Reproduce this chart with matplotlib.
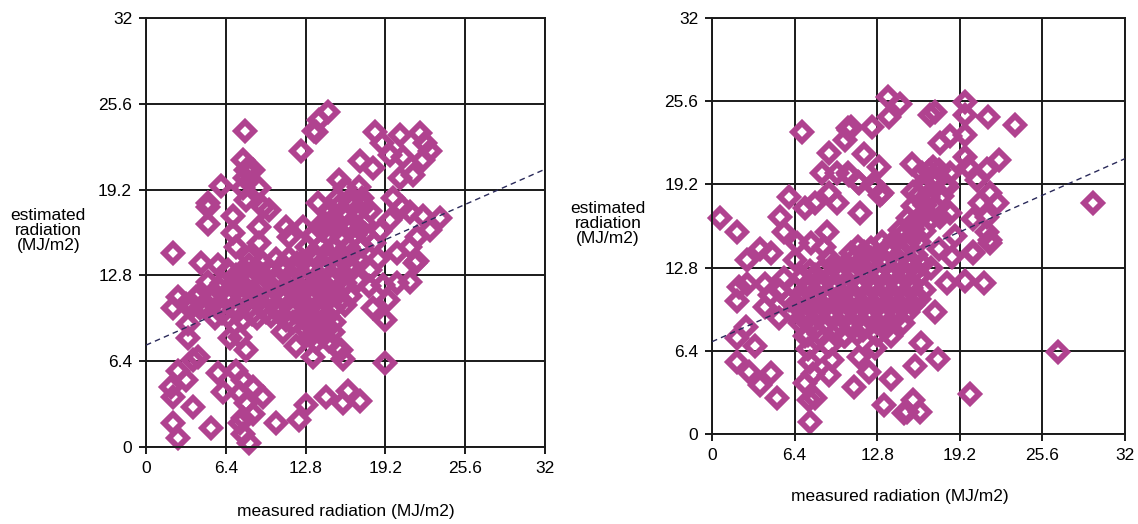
import matplotlib
matplotlib.use("Agg")
import matplotlib.pyplot as plt

# ---------------------------------------------------------------------------
# DATA
# ---------------------------------------------------------------------------
TICKS = [0, 6.4, 12.8, 19.2, 25.6, 32]
TICK_LABELS = ["0", "6.4", "12.8", "19.2", "25.6", "32"]

# trend lines: (intercept, slope)
left_trend = (7.6, 0.41)
right_trend = (7.1, 0.44)

left_sparse = [
    (7.9, 23.6), (7.8, 21.4), (8.0, 20.7), (8.6, 20.7), (7.9, 20.1), (9.1, 19.3), (7.8, 19.3),
    (6.0, 19.5), (5.0, 18.2), (5.0, 17.9), (5.0, 16.6), (2.2, 14.5),
    (12.4, 22.1), (13.5, 23.6), (13.9, 24.4), (14.6, 25.0), (13.6, 23.5), (15.5, 19.9), (13.8, 18.2),
    (14.7, 16.7), (11.2, 16.4), (12.6, 16.4), (11.5, 15.7),
    (7.0, 17.2), (7.0, 16.0), (8.0, 18.4), (9.4, 17.9), (9.9, 17.7), (9.1, 16.4), (9.1, 15.2),
    (7.2, 14.9), (4.4, 13.7), (5.8, 13.6), (8.3, 14.2),
    (2.6, 11.2), (2.2, 10.4), (3.2, 10.7), (4.3, 10.4), (4.0, 11.2), (5.2, 11.0), (3.4, 9.2),
    (3.4, 8.1), (6.7, 8.1), (7.5, 8.2), (8.0, 7.2), (11.0, 8.6), (11.8, 9.3), (12.0, 7.5),
    (13.4, 6.7), (13.4, 8.9), (15.5, 7.2),
    (3.8, 6.5), (4.2, 6.7), (2.6, 5.7), (3.2, 5.0), (2.0, 4.5), (2.2, 3.7), (3.8, 3.0), (2.2, 1.8),
    (2.6, 0.7), (5.2, 1.4), (5.8, 5.5), (6.2, 4.1), (7.2, 5.7), (7.8, 5.0), (7.5, 4.0), (8.6, 4.5),
    (9.4, 3.7), (8.0, 3.3), (8.6, 2.5), (7.5, 1.8), (7.8, 1.0), (8.3, 0.3), (7.8, 2.2), (10.4, 1.8),
    (12.3, 2.0), (12.8, 3.1), (14.4, 3.7), (15.8, 3.3), (16.2, 4.2), (17.2, 3.4),
    (19.2, 9.5), (19.2, 6.3), (15.6, 7.2), (15.8, 6.6), (18.2, 10.4), (19.4, 11.0), (21.2, 12.3),
    (20.1, 12.2), (21.6, 13.7), (19.0, 12.1),
    (18.4, 23.5), (20.4, 23.3), (22.0, 23.4), (22.4, 22.7), (22.8, 22.1), (22.2, 21.4), (18.9, 22.7),
    (19.6, 21.8), (20.6, 21.6), (21.4, 20.3), (20.4, 20.1), (17.2, 21.3), (18.2, 20.8), (19.8, 18.6),
    (20.5, 17.9), (21.2, 17.5), (22.2, 17.2), (23.6, 17.1), (22.8, 16.2), (21.7, 15.7), (21.2, 14.9),
    (20.1, 14.5), (21.7, 13.9), (19.6, 16.9),
    (18.3, 15.2), (18.6, 14.0), (18.0, 13.2), (18.8, 16.1), (17.9, 12.0),
]

left_dense = [
    (5.5, 9.6), (6.6, 9.7), (7.8, 9.5), (8.9, 9.6), (10.0, 9.8), (11.2, 9.5), (12.4, 9.7), (13.5, 9.6), (14.6, 9.8),
    (3.8, 10.5), (4.9, 10.4), (6.0, 10.6), (7.1, 10.5), (8.3, 10.4), (9.4, 10.6), (10.5, 10.5), (11.6, 10.4),
    (12.8, 10.6), (13.9, 10.5), (15.0, 10.4), (16.0, 10.6),
    (4.3, 11.4), (5.4, 11.5), (6.5, 11.3), (7.6, 11.4), (8.7, 11.5), (9.8, 11.3), (10.9, 11.4), (12.0, 11.5),
    (13.1, 11.3), (14.2, 11.4), (15.3, 11.5), (16.4, 11.3),
    (5.0, 12.3), (6.1, 12.2), (7.2, 12.4), (8.3, 12.3), (9.4, 12.2), (10.5, 12.4), (11.6, 12.3), (12.7, 12.2),
    (13.8, 12.4), (14.9, 12.3), (16.0, 12.2), (17.0, 12.4),
    (6.6, 13.2), (7.7, 13.1), (8.8, 13.3), (9.9, 13.2), (11.0, 13.1), (12.1, 13.3), (13.2, 13.2), (14.3, 13.1),
    (15.4, 13.3), (16.5, 13.2),
    (10.4, 14.0), (11.5, 14.1), (12.6, 13.9), (13.7, 14.0), (14.8, 14.1), (15.9, 13.9), (17.0, 14.0),
    (12.8, 8.7), (13.9, 8.8), (15.0, 8.6), (13.6, 7.8), (14.7, 7.9),
    (12.9, 14.9), (14.0, 15.0), (15.1, 14.8), (16.2, 14.9), (17.3, 15.0),
    (13.5, 15.8), (14.6, 15.9), (15.7, 15.7), (16.8, 15.8), (17.6, 15.9),
    (14.2, 16.7), (15.3, 16.8), (16.4, 16.6), (17.5, 16.7),
    (14.8, 17.6), (15.9, 17.5), (17.0, 17.7), (18.0, 17.6),
    (15.3, 18.5), (16.3, 18.4), (17.3, 18.6), (16.0, 19.3), (17.1, 19.4),
    # second pass through the solid core, offset by half a step
    (6.1, 10.0), (7.3, 10.1), (8.5, 9.9), (9.6, 10.1), (10.7, 10.0), (11.9, 10.1), (13.0, 9.9), (14.2, 10.1),
    (5.9, 11.8), (7.0, 11.9), (8.1, 11.8), (9.2, 11.9), (10.3, 11.8), (11.4, 11.9), (12.5, 11.8), (13.6, 11.9),
    (14.7, 11.8), (15.8, 11.9), (7.2, 12.8), (8.3, 12.7), (9.4, 12.8), (10.5, 12.7), (11.6, 12.8),
    (12.7, 12.7), (13.8, 12.8), (14.9, 12.7), (15.9, 12.8), (13.4, 14.4), (14.5, 14.5), (15.6, 14.4),
    (16.6, 14.5), (14.1, 16.2), (15.2, 16.3), (16.3, 16.2), (17.2, 16.3), (15.4, 17.9), (16.5, 18.0),
    (17.5, 18.0), (14.3, 9.2), (13.2, 8.3),
    (6.7, 11.0), (7.8, 10.9), (8.9, 11.0), (10.0, 10.9), (11.1, 11.0), (12.3, 10.9), (13.4, 11.0),
    (14.5, 10.9), (15.6, 11.0), (8.3, 13.6), (9.4, 13.7), (11.0, 13.6), (12.1, 13.7), (14.2, 13.6),
    (15.3, 13.7), (16.4, 13.6), (14.2, 8.3), (13.0, 9.3), (15.1, 9.3),
]

right_sparse = [
    (7.0, 23.2), (0.6, 16.6), (1.9, 15.5), (2.7, 13.4), (3.7, 14.2), (4.6, 13.9), (5.3, 16.7), (5.6, 15.5),
    (6.0, 18.2), (7.2, 17.4), (8.0, 17.8), (9.1, 18.5), (9.7, 17.8), (8.5, 20.1), (9.7, 20.1), (10.6, 19.9),
    (11.4, 19.3), (9.1, 21.6), (10.3, 22.6), (10.6, 23.4), (10.8, 23.6), (11.8, 21.5), (12.4, 23.6),
    (12.9, 20.5), (12.6, 19.0), (13.2, 18.5), (11.5, 17.0), (13.7, 24.4), (13.6, 25.9), (14.6, 25.4),
    (8.9, 15.5), (8.7, 14.4), (7.7, 14.7), (6.6, 14.7), (6.4, 13.4),
    (16.9, 24.5), (17.3, 24.8), (19.6, 25.5), (19.6, 24.5), (21.4, 24.4), (23.5, 23.8), (10.5, 23.5),
    (10.5, 20.1), (11.3, 19.4), (12.5, 19.2), (13.0, 18.4), (17.7, 22.4), (18.4, 22.9), (19.6, 23.0),
    (19.6, 21.3), (15.5, 20.8), (16.3, 20.1), (17.1, 20.5), (18.4, 20.1), (19.8, 20.5), (21.3, 20.4),
    (22.2, 21.1), (15.6, 18.6), (16.7, 18.2), (18.2, 19.0), (20.5, 19.5), (21.5, 18.5), (22.1, 17.8),
    (20.8, 17.8), (21.3, 16.7), (17.7, 16.7), (18.4, 17.0), (20.2, 16.5), (21.3, 15.5), (21.5, 14.7),
    (20.2, 13.9), (18.6, 13.6), (18.2, 11.6), (19.6, 11.8), (21.1, 11.6), (29.5, 17.8),
    (26.8, 6.3), (20.0, 3.1), (17.3, 9.4), (16.2, 7.0), (17.5, 5.8), (15.7, 5.2), (15.6, 2.6), (15.1, 1.7),
    (16.1, 1.7), (20.2, 14.0), (21.5, 14.9),
    (1.9, 10.2), (2.1, 11.3), (2.7, 11.5), (4.1, 11.5), (4.1, 9.8), (4.5, 10.7), (5.2, 8.9), (2.6, 8.2),
    (1.9, 7.4), (3.3, 6.8), (1.9, 5.5), (2.9, 4.8), (3.7, 3.8), (4.6, 4.7), (5.0, 2.8), (7.2, 3.9),
    (7.5, 2.6), (8.0, 2.8), (7.6, 0.9), (9.1, 6.8), (9.3, 5.7), (9.1, 4.5), (11.0, 3.6), (11.4, 5.9),
    (12.2, 4.8), (12.6, 6.6), (13.9, 4.2), (13.3, 2.2), (14.9, 1.6), (10.3, 7.5), (7.2, 7.5),
    (7.4, 6.5), (7.6, 5.5), (7.8, 4.6), (17.6, 14.2), (18.8, 15.2), (17.0, 12.8), (5.6, 12.0), (5.3, 11.0),
]

right_dense = [
    (7.4, 7.6), (8.3, 7.7), (10.2, 7.5), (11.2, 7.7), (12.8, 7.6), (13.9, 7.5),
    (6.8, 8.5), (7.8, 8.6), (8.8, 8.4), (9.8, 8.5), (10.8, 8.6), (11.8, 8.4), (12.8, 8.5), (13.8, 8.6), (14.8, 8.5),
    (6.2, 9.4), (7.2, 9.3), (8.2, 9.5), (9.2, 9.4), (10.2, 9.3), (11.2, 9.5), (12.2, 9.4), (13.2, 9.3),
    (14.2, 9.5), (15.2, 9.4),
    (6.0, 10.3), (7.0, 10.4), (8.0, 10.2), (9.0, 10.3), (10.0, 10.4), (11.0, 10.2), (12.0, 10.3), (13.0, 10.4),
    (14.0, 10.2), (15.0, 10.3), (16.0, 10.4),
    (6.4, 11.2), (7.4, 11.1), (8.4, 11.3), (9.4, 11.2), (10.4, 11.1), (11.4, 11.3), (12.4, 11.2), (13.4, 11.1),
    (14.4, 11.3), (15.4, 11.2), (16.4, 11.1),
    (7.0, 12.1), (8.0, 12.2), (9.0, 12.0), (10.0, 12.1), (11.0, 12.2), (12.0, 12.0), (13.0, 12.1), (14.0, 12.2),
    (15.0, 12.0), (16.0, 12.1),
    (9.4, 13.0), (10.4, 13.1), (11.4, 12.9), (12.4, 13.0), (13.4, 13.1), (14.4, 12.9), (15.4, 13.0), (16.3, 13.1),
    (10.8, 13.9), (11.8, 14.0), (12.8, 13.8), (13.8, 13.9), (14.8, 14.0), (15.8, 13.8),
    (13.2, 14.8), (14.2, 14.9), (15.2, 14.7), (16.0, 14.8),
    (14.6, 15.7), (15.6, 15.8), (16.4, 15.6),
    (15.2, 16.6), (16.2, 16.7), (17.0, 16.5),
    (15.6, 17.5), (16.5, 17.6), (17.4, 17.4),
    (16.0, 18.4), (16.9, 18.5), (17.8, 18.3),
    (16.4, 19.3), (17.3, 19.4), (18.1, 19.2),
    (16.8, 20.2), (17.6, 20.3),
    # second pass through the solid core, offset by half a step
    (7.3, 8.9), (8.3, 9.0), (9.3, 8.9), (10.3, 9.0), (11.3, 8.9), (12.3, 9.0), (13.3, 8.9), (14.3, 9.0),
    (6.7, 9.8), (7.7, 9.9), (8.7, 9.8), (9.7, 9.9), (10.7, 9.8), (11.7, 9.9), (12.7, 9.8), (13.7, 9.9),
    (14.7, 9.8), (15.6, 9.9), (6.9, 10.8), (7.9, 10.7), (8.9, 10.8), (9.9, 10.7), (10.9, 10.8),
    (11.9, 10.7), (12.9, 10.8), (13.9, 10.7), (14.9, 10.8), (15.8, 10.7), (7.5, 11.6), (8.5, 11.7),
    (9.5, 11.6), (10.5, 11.7), (11.5, 11.6), (12.5, 11.7), (13.5, 11.6), (14.5, 11.7), (15.5, 11.6),
    (9.9, 12.6), (10.9, 12.5), (11.9, 12.6), (12.9, 12.5), (13.9, 12.6), (14.9, 12.5), (15.8, 12.6),
    (12.3, 13.5), (13.3, 13.4), (14.3, 13.5), (15.3, 13.4), (14.7, 15.2), (15.7, 15.3), (15.6, 16.2),
    (16.6, 17.1),
    (8.5, 12.6), (7.6, 12.5), (9.1, 13.5), (10.9, 13.4), (11.3, 14.4), (12.3, 14.3), (13.7, 14.4),
    (8.0, 8.1), (9.7, 8.0), (11.7, 8.0), (13.4, 8.1), (7.0, 9.0), (6.4, 10.0),
]

MARKER_COLOR = "#b0428f"
LINE_COLOR = "#2a2a5a"


def draw_panel(ax, points, trend, xlabel_x, ylabel_x):
    xs = [p[0] for p in points]
    ys = [p[1] for p in points]
    ax.plot(xs, ys, linestyle="none", marker="D", markersize=9.0,
            markerfacecolor="none", markeredgecolor=MARKER_COLOR,
            markeredgewidth=4.2, zorder=2, clip_on=False)

    a, b = trend
    ax.plot([0, 32], [a, a + b * 32], linestyle=(0, (4, 3)), color=LINE_COLOR,
            linewidth=1.0, zorder=3)

    ax.set_xlim(0, 32)
    ax.set_ylim(0, 32)
    ax.set_xticks(TICKS)
    ax.set_yticks(TICKS)
    ax.set_xticklabels(TICK_LABELS)
    ax.set_yticklabels(TICK_LABELS)
    ax.grid(True, color="#1a1a1a", linewidth=1.4, zorder=1)
    ax.set_axisbelow(True)
    for s in ax.spines.values():
        s.set_color("#1a1a1a")
        s.set_linewidth(1.4)
    ax.tick_params(direction="out", length=5, width=1.4, color="#1a1a1a",
                   labelsize=12.5, pad=5)

    ax.text(xlabel_x, -0.15, "measured radiation (MJ/m2)", transform=ax.transAxes,
            ha="center", va="center", fontsize=12.5)
    ax.text(ylabel_x, 0.505, "estimated\nradiation\n(MJ/m2)", transform=ax.transAxes,
            ha="center", va="center", fontsize=12.5, linespacing=1.0)


plt.rcParams["font.family"] = ["Liberation Sans", "DejaVu Sans"]

fig = plt.figure(figsize=(11.38, 5.24), dpi=100)
ax_left = fig.add_axes([0.1283, 0.1469, 0.3506, 0.8187])
ax_right = fig.add_axes([0.6257, 0.1718, 0.3629, 0.7939])

draw_panel(ax_left, left_dense + left_sparse, left_trend, 0.5, -0.245)
draw_panel(ax_right, right_dense + right_sparse, right_trend, 0.455, -0.252)

fig.savefig("out.png", dpi=100)
